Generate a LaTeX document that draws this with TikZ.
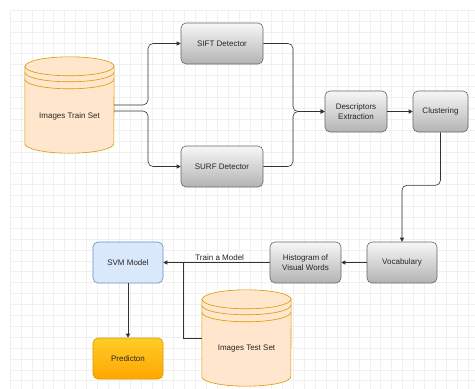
\documentclass[tikz,border=0pt]{standalone}
\usepackage{fontspec}
\setmainfont{Liberation Sans}
\usetikzlibrary{arrows.meta}
\definecolor{boxline}{HTML}{666666}
\definecolor{boxtop}{HTML}{F7F7F7}
\definecolor{boxbot}{HTML}{B3B3B3}
\definecolor{bluefill}{HTML}{DAE8FC}
\definecolor{blueline}{HTML}{6C8EBF}
\definecolor{orgtop}{HTML}{FFCD28}
\definecolor{orgbot}{HTML}{FFA500}
\definecolor{orgline}{HTML}{D79B00}
\definecolor{storefill}{HTML}{FFE6CC}
\definecolor{gridc}{HTML}{F0F0F0}
\definecolor{linec}{HTML}{333333}
\tikzset{
  gbox/.style={rectangle, rounded corners=5pt, draw=boxline, line width=0.6pt,
    top color=boxtop, bottom color=boxbot, minimum height=41pt, align=center,
    font=\fontsize{8}{9.5}\selectfont, text=black!85, inner sep=1pt},
  storebox/.style={rectangle, minimum width=89pt, minimum height=96pt, inner sep=0pt},
  conn/.style={draw=linec, line width=0.6pt, rounded corners=5pt,
    -{Triangle[length=4pt,width=4pt]}},
  plainconn/.style={draw=linec, line width=0.6pt},
  lbl/.style={font=\fontsize{8}{9.5}\selectfont, text=black!85}
}
\newcommand{\drawstore}[1]{%
  % #1 node name; cylinder drawn around node bounds
  \path (#1.north west) coordinate (tl) (#1.south east) coordinate (br);
  \fill[storefill, draw=orgline, line width=0.6pt]
    ([yshift=-9.5pt]tl) -- ([yshift=9.5pt]tl |- br)
    arc[start angle=180, end angle=360, x radius=44.5pt, y radius=9.5pt]
    -- ([yshift=-9.5pt]br |- tl)
    arc[start angle=0, end angle=180, x radius=44.5pt, y radius=9.5pt] -- cycle;
  \foreach \d in {9.5,15.5,22.5}{
    \draw[orgline, line width=0.6pt] ([yshift=-\d pt]tl)
      arc[start angle=180, end angle=360, x radius=44.5pt, y radius=9.5pt];
  }
}
\begin{document}
\begin{tikzpicture}[x=1pt,y=-1pt]
\useasboundingbox (0,0) rectangle (475,389);
\fill[white] (0,0) rectangle (475,389);
% grid
\foreach \i in {0,...,42}{
  \draw[gridc, line width=0.4pt] ({10+\i*10.9},10) -- ({10+\i*10.9},389);
}
\foreach \j in {0,...,34}{
  \draw[gridc, line width=0.4pt] (10,{10+\j*10.9}) -- (475,{10+\j*10.9});
}
% data stores
\node[storebox] (train) at (69.5,105) {};
\drawstore{train}
\node[lbl] (trainlbl) at (69.5,116) {Images Train Set};
\node[storebox] (test) at (246.5,338) {};
\drawstore{test}
\node[lbl] (testlbl) at (246.5,349) {Images Test Set};
% boxes
\node[gbox, minimum width=82pt] (sift) at (222,43.5) {SIFT Detector};
\node[gbox, minimum width=82pt] (surf) at (222,166.5) {SURF Detector};
\node[gbox, minimum width=62pt] (desc) at (356,111.5) {Descriptors\\Extraction};
\node[gbox, minimum width=55pt] (clust) at (440.5,111.5) {Clustering};
\node[gbox, minimum width=70pt] (vocab) at (402,262.5) {Vocabulary};
\node[gbox, minimum width=71pt] (hist) at (305.5,262.5) {Histogram of\\Visual Words};
\node[gbox, minimum width=70pt, top color=bluefill, bottom color=bluefill, draw=blueline] (svm) at (128,262.5) {SVM Model};
\node[gbox, minimum width=70pt, top color=orgtop, bottom color=orgbot, draw=orgline] (pred) at (128,358.5) {Predicton};
% helper coordinates
\coordinate (trainup) at (train.east);
\coordinate (traindn) at ([yshift=-6pt]train.east);
\coordinate (mergex) at (293,0);
\coordinate (splitx) at (148,0);
\coordinate (tj) at (183,262.5);
% connectors
\draw[conn] (trainup) -- (trainup -| splitx) |- (sift.west);
\draw[conn] (traindn) -- (traindn -| splitx) |- (surf.west);
\draw[conn] (sift.east) -- (sift.east -| mergex) |- (desc.west);
\draw[conn] (surf.east) -- (surf.east -| mergex) |- (desc.west);
\draw[conn] (desc.east) -- (clust.west);
\draw[conn] (clust.south) -- ++(0,53) -| (vocab.north);
\draw[conn] (vocab.west) -- (hist.west -| hist.east);
\draw[conn] (hist.west) -- node[lbl, pos=0.47, above, inner sep=2pt] {Train a Model} (svm.east);
\draw[plainconn] (test.west) -| (tj);
\draw[conn] (svm.south) -- (pred.north);
\end{tikzpicture}
\end{document}
